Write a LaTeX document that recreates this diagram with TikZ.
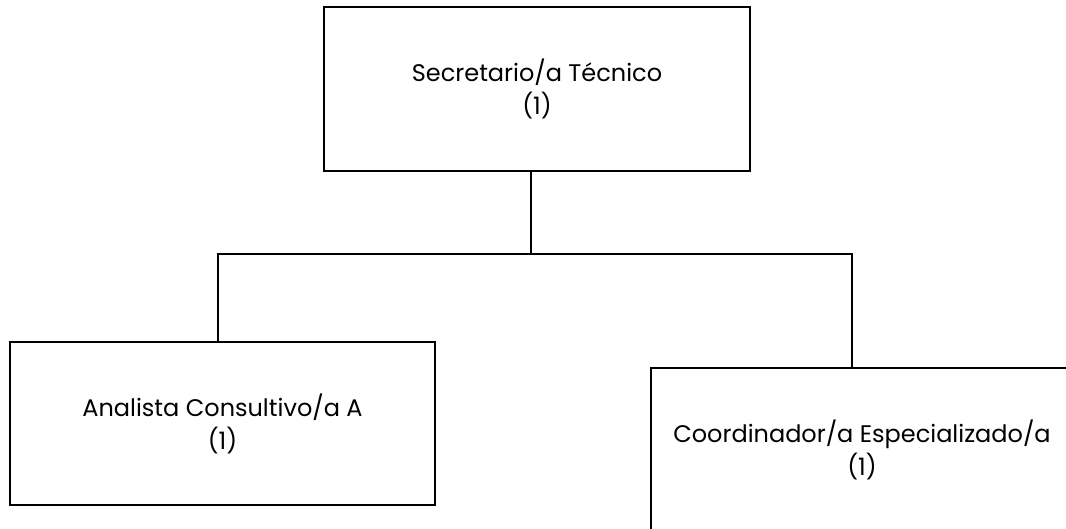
\documentclass[tikz,border=0pt]{standalone}
\usepackage{fontspec}
\setmainfont{Poppins}
\usetikzlibrary{positioning}
\tikzset{
    post/.style={shape=rectangle,draw,line width=1.4pt,align=center,font=\fontsize{24}{33}\selectfont},
    link/.style={line width=1.4pt},
  }

\begin{document}
\begin{tikzpicture}[x=1pt,y=-1pt]
	    \useasboundingbox (0,0) rectangle (1066,529);
	    \clip (0,0) rectangle (1066,529);
	    % create the nodes
		    \node[post,minimum width=426pt,minimum height=164pt] (s1) at (537,89) {Secretario/a Técnico\\(1)}; %top box
		    \node[post,minimum width=425pt,minimum height=163pt] (a1) at (222.5,423.5) {Analista Consultivo/a A\\(1)};
		    \node[post,minimum width=422pt,minimum height=163pt] (c1) at (862,449.5) {Coordinador/a Especializado/a\\(1)};
	    % connectors
		    \coordinate (j) at (531,254);
		    \coordinate (jl) at (218,254);
		    \coordinate (jr) at (852,254);
		    \draw[link] (s1.south -| j) -- (j);
		    \draw[link] (a1.north -| jl) -- (jl) -- (jr) -- (c1.north -| jr);
		\end{tikzpicture}
\end{document}
